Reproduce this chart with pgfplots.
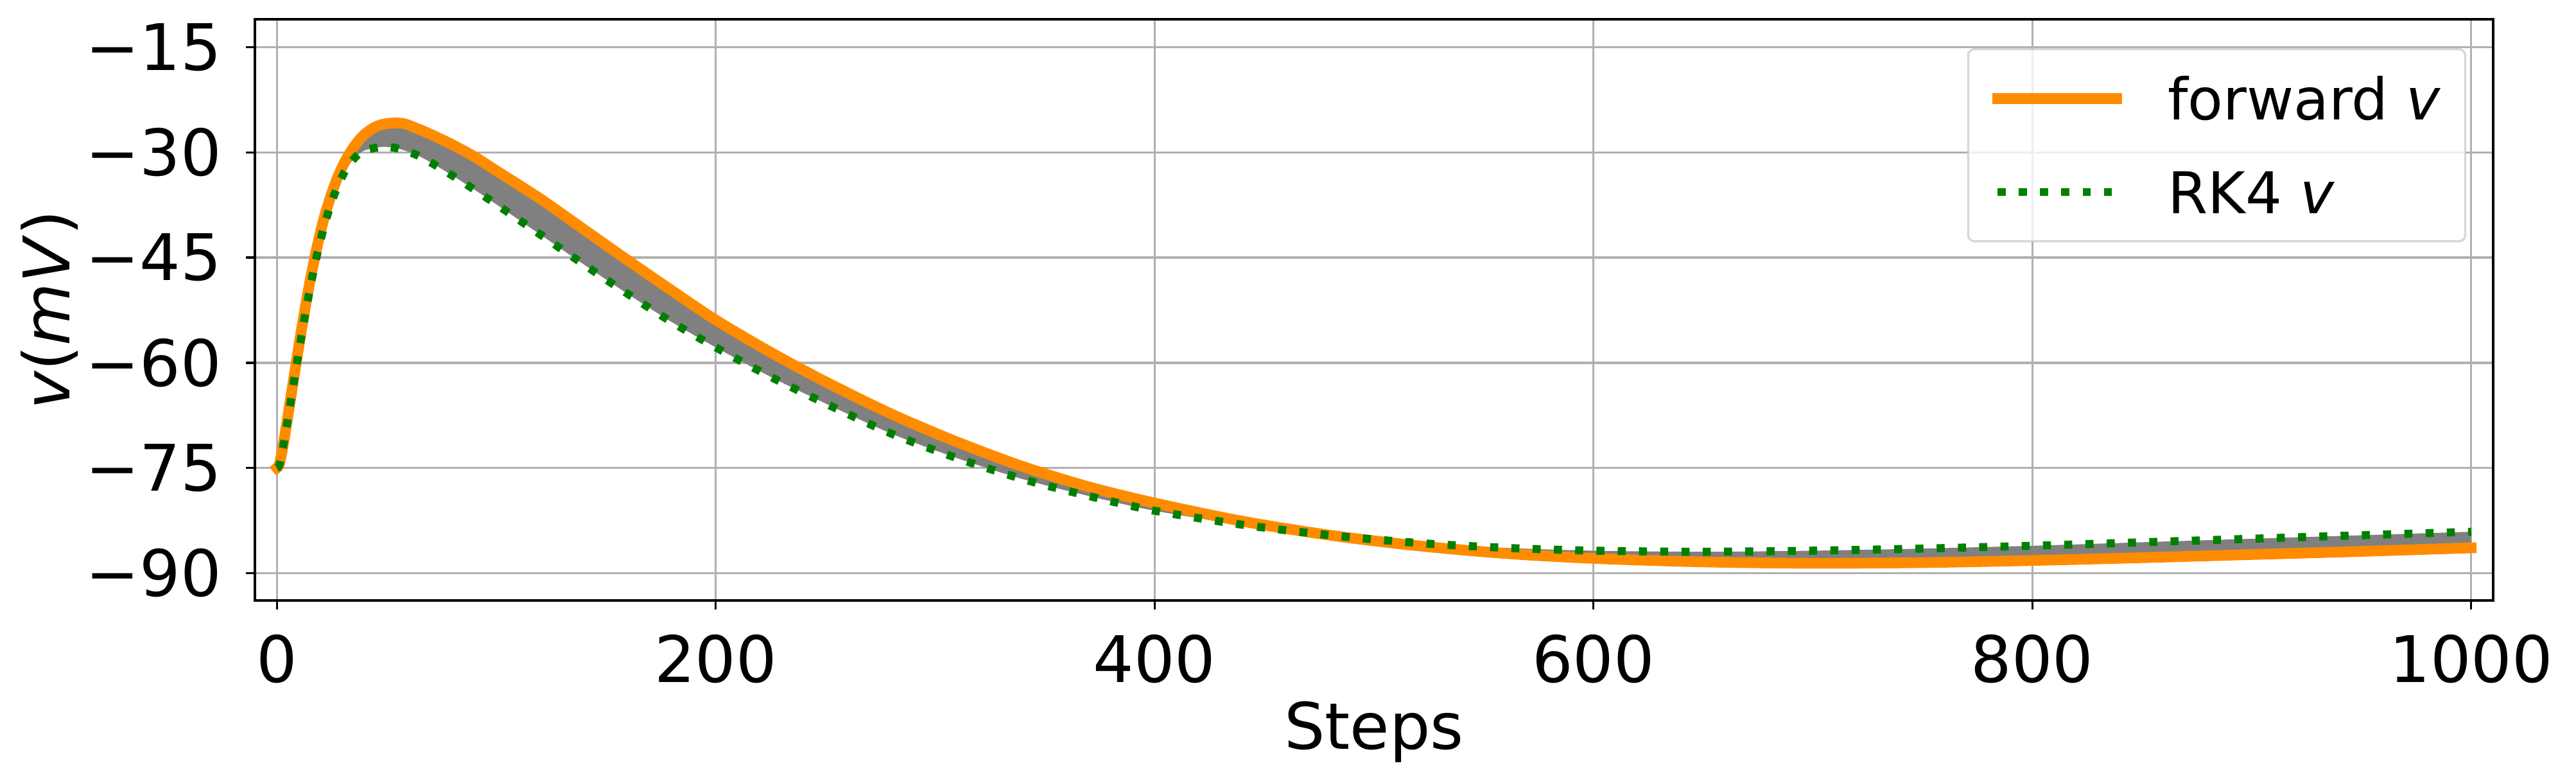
\documentclass[border=0pt]{standalone}
\usepackage{fontspec}
\setmainfont{DejaVu Sans}
\usepackage{pgfplots}
\pgfplotsset{compat=1.18}
\usepgfplotslibrary{fillbetween}
\usepackage{pgfplotstable}

\definecolor{fwdorange}{HTML}{FF8C00}
\definecolor{rkgreen}{HTML}{008000}
\definecolor{gridgray}{HTML}{B0B0B0}
\definecolor{fillgray}{HTML}{808080}
\definecolor{legframe}{HTML}{CCCCCC}

% membrane potential, forward Euler vs RK4
\pgfplotstableread{
step forward rk4
0    -75.0 -75.0
1    -74.6 -74.7
2    -73.2 -73.3
3    -71.5 -71.7
4    -69.6 -69.9
5    -67.6 -68.0
6    -65.6 -66.1
8    -61.6 -62.2
10   -57.6 -58.4
12   -53.8 -54.7
14   -50.2 -51.2
16   -46.9 -48.0
18   -43.9 -45.0
20   -41.2 -42.4
22   -38.8 -40.0
25   -35.8 -37.0
28   -33.3 -34.6
31   -31.3 -32.7
34   -29.7 -31.3
37   -28.4 -30.3
40   -27.4 -29.7
44   -26.5 -29.4
48   -26.0 -29.2
53   -25.8 -29.3
58   -25.9 -29.7
64   -26.6 -30.4
70   -27.4 -31.4
80   -28.9 -33.3
90   -30.6 -35.3
100  -32.6 -37.4
120  -36.6 -41.7
140  -41.0 -46.0
160  -45.4 -50.2
180  -49.7 -54.2
200  -53.9 -57.8
225  -58.5 -62.0
250  -62.7 -65.8
280  -67.3 -70.1
310  -71.3 -73.6
340  -74.8 -76.6
370  -77.7 -79.0
400  -80.0 -81.1
440  -82.6 -83.1
480  -84.6 -84.6
520  -86.1 -85.7
560  -87.2 -86.4
600  -87.9 -86.8
650  -88.4 -86.95
700  -88.6 -86.8
750  -88.5 -86.5
800  -88.2 -86.1
850  -87.8 -85.6
900  -87.35 -85.1
950  -86.9 -84.6
1000 -86.4 -84.1
}\vdata

\begin{document}
\begin{tikzpicture}
\begin{axis}[
    set layers,
    scale only axis,
    width=836.6pt, height=217.2pt,
    xmin=-10, xmax=1010,
    ymin=-93.9, ymax=-11,
    xtick={0,200,400,600,800,1000},
    ytick={-90,-75,-60,-45,-30,-15},
    yticklabels={−90,−75,−60,−45,−30,−15},
    /pgf/number format/assume math mode=true,
    /pgf/number format/1000 sep={},
    grid=major,
    major grid style={gridgray, line width=0.8pt},
    tick align=outside,
    tick pos=left,
    major tick length=3.4pt,
    every tick/.style={black, line width=0.8pt},
    axis line style={line width=0.8pt},
    tick label style={font=\fontsize{24}{28}\selectfont, inner sep=0pt},
    xticklabel style={yshift=-9.2pt},
    yticklabel style={xshift=-8.9pt},
    xlabel={Steps},
    ylabel={\textit{v}(\textit{mV})},
    label style={font=\fontsize{24}{28}\selectfont, inner sep=0pt},
    xlabel style={at={(axis description cs:0.5,-0.1726)}, anchor=north},
    ylabel style={at={(axis description cs:-0.0789,0.5)}, anchor=south},
    legend cell align=left,
    legend image code/.code={\draw[#1, draw opacity=1, fill opacity=1] (0pt,0pt) -- (44.6pt,0pt);},
    legend style={at={(axis description cs:1,1)}, anchor=north east,
        xshift=-10pt, yshift=-10.8pt,
        draw=legframe, line width=0.8pt, rounded corners=2.4pt,
        fill=white, fill opacity=0.8, draw opacity=0.8, text opacity=1,
        font=\fontsize{21.5}{25}\selectfont,
        inner xsep=9pt, inner ysep=10.4pt, row sep=19pt, column sep=17pt,
        nodes={inner sep=0pt, text height=16pt, text depth=0pt}},
]
\addplot[name path=fwd, smooth, fwdorange, line width=4pt, line cap=rect] table[x=step, y=forward] {\vdata};
\addlegendentry{forward \textit{v}}
\addplot[name path=rk, smooth, rkgreen, line width=3pt, dash pattern=on 3pt off 4.95pt] table[x=step, y=rk4] {\vdata};
\addlegendentry{RK4 \textit{v}}
\addplot[fillgray, draw=none, forget plot, on layer=axis background] fill between[of=fwd and rk];
\end{axis}
\path (-95.3pt,-66.7pt) rectangle (867.6pt,224.4pt);
\end{tikzpicture}
\end{document}
